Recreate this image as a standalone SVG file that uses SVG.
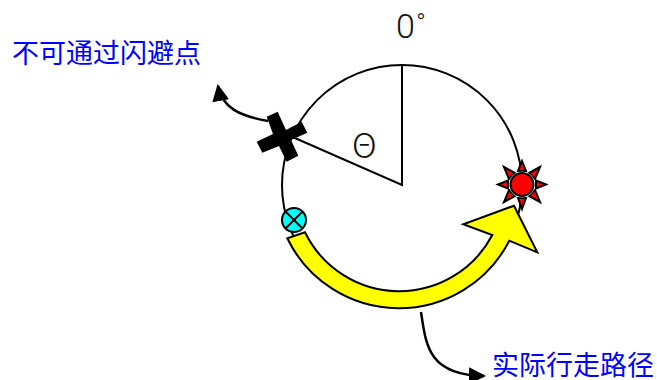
<svg xmlns="http://www.w3.org/2000/svg" width="657" height="380" viewBox="0 0 657 380">
<style>
.l{fill:none;stroke:#000;stroke-width:2}
.t{fill:none;stroke:#000;stroke-width:2.500}
.o{stroke:#000;stroke-width:2;stroke-linejoin:miter}
.cn{font-family:"Liberation Sans","Noto Sans CJK SC",sans-serif;font-size:27px;fill:#0000ff}
.sym{fill:#111;font-family:Roboto,"Liberation Sans",sans-serif;font-weight:300}
</style>
<defs>
<marker id="a" markerUnits="userSpaceOnUse" markerWidth="20" markerHeight="20" refX="15" refY="8.500" orient="auto"><path d="M0 0L17 8.500L0 17Z" fill="#000"/></marker>
</defs>
<rect width="657" height="380" fill="#fff"/>
<g id="connectors">
<circle class="l" cx="402" cy="185" r="120"/>
<path class="l" d="M402 65V185L288 135"/>
<path class="t" d="M268 121C240 116 222 108 218 86" marker-end="url(#a)"/>
<path class="t" d="M421 312C426 345 428 375 484 376" marker-end="url(#a)"/>
</g>
<g id="blocked"><path fill="#000" d="M266.700 116.700L277.700 111.700L286 130L301.700 121.700L307.300 132.700L291 140L298.300 155.700L286.700 161.700L279 146L262.300 152.700L256.700 141.700L273 134Z"/></g>
<g id="start">
<circle cx="294" cy="220" r="12" fill="#00ffff" stroke="#000" stroke-width="2"/>
<path class="l" d="M285.500 211.500L302.500 228.500M302.500 211.500L285.500 228.500"/>
</g>
<g id="target">
<g fill="#ff0000" stroke="#000" stroke-width="2">
<path d="M522 161L526 171H518Z"/><path d="M522 209L526 198H518Z"/><path d="M498 184.500L508 180.500V188.500Z"/><path d="M546 184.500L536 180.500V188.500Z"/>
<path d="M504 167L515 173L509 179Z"/><path d="M540 167L529 173L535 179Z"/><path d="M504 202L515 196L509 190Z"/><path d="M540 202L529 196L535 190Z"/>
</g>
<circle cx="522" cy="184.500" r="13" fill="#fff" opacity=".7"/>
<circle cx="522" cy="184.500" r="11.500" fill="#ff0000" stroke="#000" stroke-width="2"/>
</g>
<g id="path-arrow">
<path class="o" fill="#ffff00" d="M287.300 238.300A124 124 0 0 0 509.300 240.700L537.300 252.300L514 205.700L463.300 224.300L492.300 235A105 105 0 0 1 305 232.300Z"/>
</g>
<g id="labels">
<text class="sym" x="396" y="38" font-size="34">0</text>
<text class="sym" x="416" y="32" font-size="26">°</text>
<text x="352" y="158" font-size="34" font-weight="300" fill="#111" font-family="Noto Sans CJK SC, sans-serif">Θ</text>
<text class="cn" x="12" y="63">不可通过闪避点</text>
<text class="cn" x="492" y="375">实际行走路径</text>
</g>
</svg>
